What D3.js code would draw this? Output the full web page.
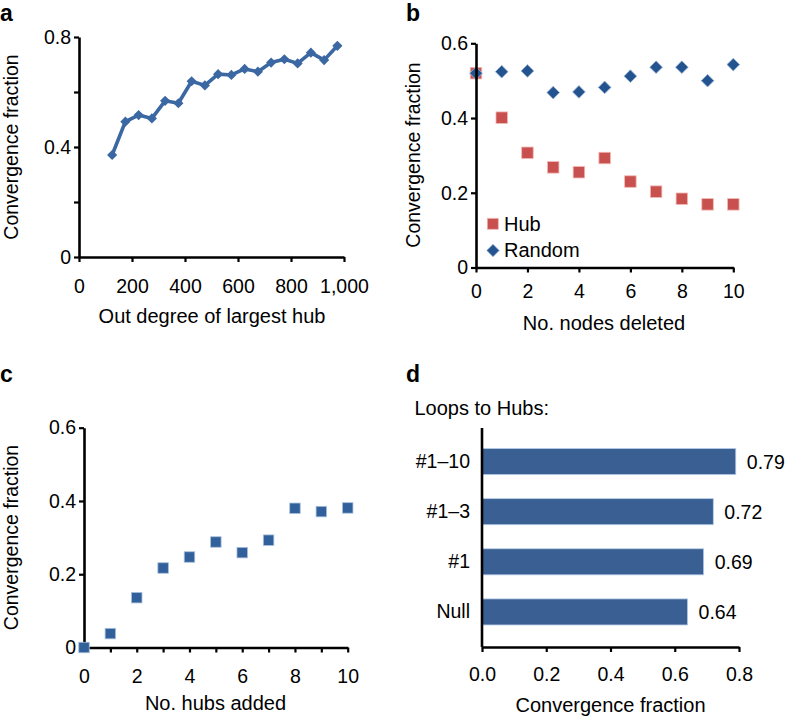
<!DOCTYPE html>
<html><head><meta charset="utf-8">
<script src="https://cdn.jsdelivr.net/npm/d3@7"></script>
<style>body{margin:0;background:#fff}</style>
</head><body><svg id="c" width="788" height="717"></svg>
<script>
const FONT = '"Liberation Sans", Arial, Helvetica, sans-serif';
// Panel a
const aX = [125,175,225,275,325,375,425,475,525,575,625,675,725,775,825,875,925,975];
const aY = [0.371,0.492,0.516,0.504,0.568,0.559,0.639,0.624,0.665,0.662,0.684,0.674,0.707,0.719,0.704,0.743,0.716,0.768];
const aXTicks = [0,200,400,600,800,1000];
const aYTicks = [0,0.2,0.4,0.6,0.8];
const aYLabeled = [0,0.4,0.8];
// Panel b
const bX = [0,1,2,3,4,5,6,7,8,9,10];
const bHub = [0.520,0.401,0.307,0.268,0.255,0.293,0.230,0.203,0.184,0.169,0.169];
const bRandom = [0.520,0.524,0.526,0.468,0.470,0.482,0.512,0.536,0.536,0.500,0.543];
const bXTicks = [0,2,4,6,8,10];
const bYTicks = [0,0.2,0.4,0.6];
// Panel c
const cX = [0,1,2,3,4,5,6,7,8,9,10];
const cY = [0,0.038,0.136,0.217,0.247,0.288,0.259,0.293,0.380,0.371,0.381];
const cXTicks = [0,1,2,3,4,5,6,7,8,9,10];
const cYTicks = [0,0.2,0.4,0.6];
// Panel d
const dCats = ["#1\u201310","#1\u20133","#1","Null"];
const dVals = [0.79,0.72,0.69,0.64];
const dXTicks = [0,0.2,0.4,0.6,0.8];

const svg = d3.select("#c");
const FS = 19.5;
const TFS = 20;
const fmtY = d => d === 0 ? "0" : d3.format(".1f")(d);

function styleAxis(g){
  g.attr("font-size", FS).attr("font-family", FONT);
  g.select(".domain").attr("stroke","#000").attr("stroke-width",2.6);
  g.selectAll(".tick line").attr("stroke","#000").attr("stroke-width",2.2);
  g.selectAll(".tick text").attr("fill","#000");
}
function label(x,y,t){
  svg.append("text").attr("x",x).attr("y",y).text(t)
    .attr("font-family",FONT).attr("font-weight","bold").attr("font-size",23);
}
function title(x,y,t,rot){
  const el = svg.append("text").attr("text-anchor","middle").attr("font-family",FONT).attr("font-size",rot?19.5:TFS).text(t);
  if (rot) el.attr("transform",`translate(${x},${y}) rotate(-90)`);
  else el.attr("x",x).attr("y",y);
}
function diamond(g, cx, cy, s, fill, stroke){
  g.append("rect").attr("x",-s/2).attr("y",-s/2).attr("width",s).attr("height",s)
    .attr("transform",`translate(${cx},${cy}) rotate(45)`)
    .attr("fill",fill).attr("stroke",stroke||"none").attr("stroke-width",0.8);
}
function square(g, cx, cy, s, fill, stroke){
  g.append("rect").attr("x",cx-s/2).attr("y",cy-s/2).attr("width",s).attr("height",s)
    .attr("fill",fill).attr("stroke",stroke||"none").attr("stroke-width",0.8);
}

// ---------- Panel a ----------
{
  const x = d3.scaleLinear([0,1000],[79,344]);
  const y = d3.scaleLinear([0,0.8],[257,37]);
  const col = "#3b68a2";
  const pts = aX.map((v,i)=>[v,aY[i]]);
  svg.append("path").datum(pts)
    .attr("d", d3.line().x(d=>x(d[0])).y(d=>y(d[1])))
    .attr("fill","none").attr("stroke",col).attr("stroke-width",3.6).attr("stroke-linejoin","round");
  const gm = svg.append("g");
  pts.forEach(d=>diamond(gm, x(d[0]), y(d[1]), 7.2, col));
  svg.append("g").attr("transform","translate(0,257)")
    .call(d3.axisBottom(x).tickValues(aXTicks).tickFormat(d3.format(",")).tickSizeInner(5).tickSizeOuter(0).tickPadding(17))
    .call(styleAxis);
  svg.append("g").attr("transform","translate(79,0)")
    .call(d3.axisLeft(y).tickValues(aYTicks).tickFormat(d=>aYLabeled.includes(d)?fmtY(d):"").tickSizeInner(5).tickSizeOuter(0).tickPadding(3))
    .call(styleAxis);
  title(212,323,"Out degree of largest hub");
  title(18,147,"Convergence fraction",true);
  label(0,21,"a");
}

// ---------- Panel b ----------
{
  const x = d3.scaleLinear([0,10],[476,733.3]);
  const y = d3.scaleLinear([0,0.6],[267.5,43.3]);
  const red = "#c8504e", blue = "#23548f";
  const gh = svg.append("g");
  bX.forEach((v,i)=>square(gh, x(v), y(bHub[i]), 11.5, red, "#f2b8b4"));
  const gr = svg.append("g");
  bX.forEach((v,i)=>diamond(gr, x(v), y(bRandom[i]), 9, blue, "#9fb7d6"));
  svg.append("g").attr("transform","translate(0,267.5)")
    .call(d3.axisBottom(x).tickValues(bXTicks).tickFormat(d3.format("d")).tickSizeInner(5).tickSizeOuter(0).tickPadding(11.5))
    .call(styleAxis);
  svg.append("g").attr("transform","translate(476,0)")
    .call(d3.axisLeft(y).tickValues(bYTicks).tickFormat(fmtY).tickSizeInner(5).tickSizeOuter(0).tickPadding(3))
    .call(styleAxis);
  // legend
  const lg = svg.append("g");
  square(lg, 492.8, 223.8, 11, red, "#f2b8b4");
  diamond(lg, 493, 250.5, 8.8, blue, "#9fb7d6");
  lg.append("text").attr("x",504).attr("y",230.5).text("Hub").attr("font-family",FONT).attr("font-size",TFS);
  lg.append("text").attr("x",504).attr("y",256.5).text("Random").attr("font-family",FONT).attr("font-size",TFS);
  title(604,330,"No. nodes deleted");
  title(419.5,155,"Convergence fraction",true);
  label(406,21,"b");
}

// ---------- Panel c ----------
{
  const x = d3.scaleLinear([0,10],[84,347.7]);
  const y = d3.scaleLinear([0,0.6],[647.5,427.7]);
  const col = "#32609b";
  const gc = svg.append("g");
  cX.forEach((v,i)=>square(gc, x(v), y(cY[i]), 10.5, col, "#a9c0dc"));
  svg.append("g").attr("transform","translate(0,647.5)")
    .call(d3.axisBottom(x).tickValues(cXTicks).tickFormat(d=>d%2===0?String(d):"").tickSizeInner(5).tickSizeOuter(0).tickPadding(16.5))
    .call(styleAxis);
  svg.append("g").attr("transform","translate(84,0)")
    .call(d3.axisLeft(y).tickValues(cYTicks).tickFormat(fmtY).tickSizeInner(5).tickSizeOuter(0).tickPadding(3))
    .call(styleAxis);
  title(215.5,710,"No. hubs added");
  title(18,537.5,"Convergence fraction",true);
  gc.raise();
  label(0,382,"c");
}

// ---------- Panel d ----------
{
  const x = d3.scaleLinear([0,0.8],[482,739]);
  const y = d3.scaleBand(dCats,[436.5,637]).paddingInner(0.48).paddingOuter(0.24);
  const col = "#3a5f92";
  svg.append("g").selectAll("rect").data(dCats).join("rect")
    .attr("x",x(0)).attr("y",d=>y(d)).attr("width",(d,i)=>x(dVals[i])-x(0)).attr("height",y.bandwidth())
    .attr("fill",col).attr("stroke","#b5cde8").attr("stroke-width",0.8);
  svg.append("g").selectAll("text").data(dCats).join("text")
    .attr("x",(d,i)=>x(dVals[i])+11).attr("y",d=>y(d)+y.bandwidth()/2+7.5)
    .text((d,i)=>d3.format(".2f")(dVals[i]))
    .attr("font-family",FONT).attr("font-size",FS);
  svg.append("g").attr("transform","translate(0,647)")
    .call(d3.axisBottom(x).tickValues(dXTicks).tickFormat(d3.format(".1f")).tickSizeInner(5).tickSizeOuter(0).tickPadding(15))
    .call(styleAxis);
  const ga = svg.append("g").attr("transform","translate(482,0)")
    .call(d3.axisLeft(y).tickSize(0).tickPadding(12))
    .call(styleAxis);
  ga.select(".domain").remove();
  svg.append("line").attr("x1",482).attr("x2",482).attr("y1",428).attr("y2",647)
    .attr("stroke","#000").attr("stroke-width",2.6);
  svg.append("text").attr("x",414.5).attr("y",415).text("Loops to Hubs:")
    .attr("font-family",FONT).attr("font-size",TFS);
  title(610.5,711.5,"Convergence fraction");
  label(406,382,"d");
}
</script></body></html>
